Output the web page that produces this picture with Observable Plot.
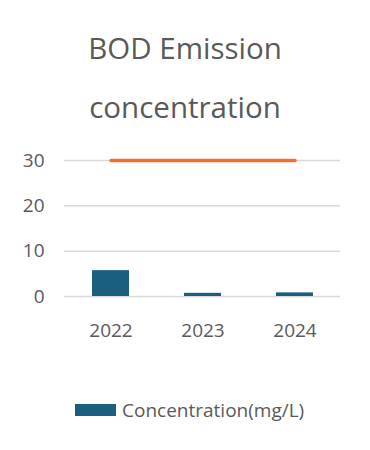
<!DOCTYPE html>
<html>
<head>
<meta charset="utf-8">
<script src="https://cdn.jsdelivr.net/npm/d3@7"></script>
<script src="https://cdn.jsdelivr.net/npm/@observablehq/plot@0.6"></script>
<style>
  html, body { margin: 0; padding: 0; background: #fff; }
  body { width: 370px; height: 450px; overflow: hidden; font-family: "Open Sans", "Noto Sans", sans-serif; color: #595959; }
  #title { text-align: center; font-size: 29.5px; line-height: 59px; padding-top: 18px; height: 140px; box-sizing: border-box; }
  #chart { height: 210px; }
  #legend { display: flex; align-items: center; height: 26px; margin-left: 75px; margin-top: 47px; font-size: 19px; }
  #legend .sw { width: 41px; height: 12px; background: #1a5e80; margin-right: 6px; }
</style>
</head>
<body>
<div id="title">BOD Emission<br>concentration</div>
<div id="chart"></div>
<div id="legend"><span class="sw"></span><span>Concentration(mg/L)</span></div>
<script>
const years = ["2022", "2023", "2024"];
const concentration = [5.7, 0.7, 0.8];
const limit = [30, 30, 30];
const yTicks = [0, 10, 20, 30];

const data = years.map((y, i) => ({year: y, value: concentration[i], limit: limit[i]}));

const plot = Plot.plot({
  width: 370,
  height: 210,
  marginTop: 20,
  marginBottom: 54,
  marginLeft: 64,
  marginRight: 30,
  style: {fontFamily: "'Open Sans', 'Noto Sans', sans-serif", fontSize: "19px", color: "#595959", background: "#fff"},
  x: {domain: years, paddingInner: 0.6, paddingOuter: 0.3, label: null, tickSize: 0, tickPadding: 27},
  y: {domain: [0, 30], ticks: yTicks, label: null, tickSize: 0, tickPadding: 20},
  marks: [
    Plot.gridY(yTicks, {stroke: "#d9d9d9", strokeOpacity: 1, strokeWidth: 1.5}),
    Plot.barY(data, {x: "year", y: "value", fill: "#1a5e80"}),
    Plot.lineY(data, {x: "year", y: "limit", stroke: "#f07030", strokeWidth: 3.5, strokeLinecap: "round"})
  ]
});
document.getElementById("chart").appendChild(plot);
</script>
</body>
</html>
